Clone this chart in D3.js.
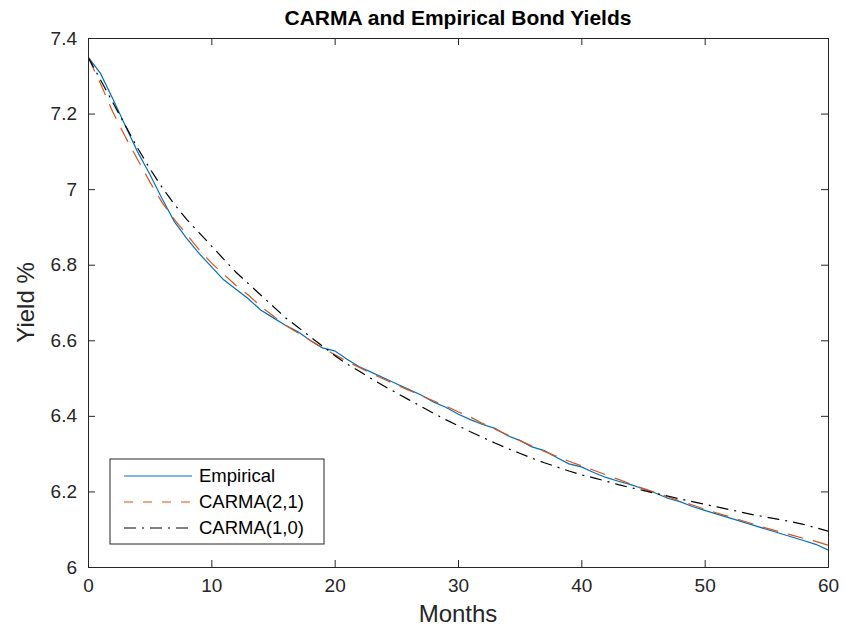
<!DOCTYPE html>
<html>
<head>
<meta charset="utf-8">
<script src="https://cdn.jsdelivr.net/npm/d3@7"></script>
<style>
  body { margin: 0; background: #fff; }
  svg { display: block; font-family: "Liberation Sans", Arial, Helvetica, sans-serif; }
</style>
</head>
<body>
<div id="chart"></div>
<script>
// monthly yields, months 0..60
var months = d3.range(0, 61);

var empirical = [7.350, 7.307, 7.240, 7.170, 7.100, 7.040, 6.975, 6.914, 6.870, 6.830,
                 6.795, 6.760, 6.735, 6.710, 6.680, 6.660, 6.640, 6.623, 6.600, 6.580,
                 6.572, 6.550, 6.530, 6.515, 6.500, 6.485, 6.470, 6.455, 6.437, 6.423,
                 6.405, 6.390, 6.377, 6.367, 6.348, 6.335, 6.318, 6.308, 6.290, 6.273,
                 6.265, 6.250, 6.237, 6.227, 6.218, 6.207, 6.196, 6.182, 6.173, 6.160,
                 6.150, 6.140, 6.130, 6.120, 6.110, 6.100, 6.090, 6.080, 6.070, 6.060,
                 6.045];

var carma21 = [7.350, 7.280, 7.205, 7.140, 7.080, 7.020, 6.965, 6.920, 6.880, 6.840,
               6.805, 6.775, 6.745, 6.720, 6.690, 6.665, 6.640, 6.620, 6.600, 6.580,
               6.562, 6.544, 6.528, 6.512, 6.497, 6.482, 6.468, 6.454, 6.440, 6.426,
               6.411, 6.397, 6.380, 6.365, 6.350, 6.335, 6.320, 6.306, 6.293, 6.280,
               6.268, 6.256, 6.244, 6.232, 6.220, 6.208, 6.197, 6.186, 6.175, 6.164,
               6.153, 6.143, 6.133, 6.123, 6.113, 6.103, 6.094, 6.085, 6.076, 6.068,
               6.058];

var carma10 = [7.350, 7.290, 7.230, 7.170, 7.110, 7.055, 7.005, 6.960, 6.920, 6.885,
               6.850, 6.815, 6.780, 6.750, 6.720, 6.690, 6.660, 6.635, 6.610, 6.585,
               6.560, 6.537, 6.518, 6.498, 6.479, 6.461, 6.443, 6.425, 6.407, 6.390,
               6.374, 6.358, 6.343, 6.328, 6.314, 6.301, 6.288, 6.276, 6.265, 6.254,
               6.244, 6.236, 6.227, 6.218, 6.210, 6.203, 6.195, 6.188, 6.180, 6.173,
               6.166, 6.159, 6.152, 6.145, 6.138, 6.132, 6.126, 6.120, 6.113, 6.104,
               6.095];

var xTicks = [0, 10, 20, 30, 40, 50, 60];
var yTicks = [6, 6.2, 6.4, 6.6, 6.8, 7, 7.2, 7.4];
var seriesNames = ["Empirical", "CARMA(2,1)", "CARMA(1,0)"];

var W = 844, H = 630;
var margin = {top: 38, right: 16, bottom: 63, left: 88};
var width = W - margin.left - margin.right,
    height = H - margin.top - margin.bottom;
var axisColor = "#262626";

var svg = d3.select("#chart").append("svg")
    .attr("width", W)
    .attr("height", H);

var g = svg.append("g")
    .attr("transform", "translate(" + margin.left + "," + margin.top + ")");

var x = d3.scaleLinear().domain([0, 60]).range([0, width]);
var y = d3.scaleLinear().domain([6, 7.4]).range([height, 0]);

g.append("clipPath").attr("id", "clip")
  .append("rect").attr("width", width).attr("height", height);

// series
var series = [
    {name: seriesNames[0], values: empirical, color: "#0072BD", dash: null, legendDash: null},
    {name: seriesNames[1], values: carma21, color: "#D95319", dash: "16,10", legendDash: "9,10"},
    {name: seriesNames[2], values: carma10, color: "#000000", dash: "12,6,2,6", legendDash: "12,6,2,6"}
];

var line = d3.line()
    .x(function (d, i) { return x(months[i]); })
    .y(function (d) { return y(d); });

var plot = g.append("g").attr("clip-path", "url(#clip)");

series.forEach(function (s) {
    plot.append("path")
        .datum(s.values)
        .attr("fill", "none")
        .attr("stroke", s.color)
        .attr("stroke-width", 1.2)
        .attr("stroke-dasharray", s.dash)
        .attr("d", line);
});

// axes (MATLAB style: inward ticks, box)
var tickLen = 7;

var xAxisB = d3.axisBottom(x).tickValues(xTicks).tickSize(-tickLen).tickPadding(12)
    .tickFormat(d3.format("d"));
var xAxisT = d3.axisTop(x).tickValues(xTicks).tickSize(-tickLen).tickFormat("");
var yAxisL = d3.axisLeft(y).tickValues(yTicks).tickSize(-tickLen).tickPadding(11)
    .tickFormat(function (d) { return d3.format("")(+d.toFixed(1)); });
var yAxisR = d3.axisRight(y).tickValues(yTicks).tickSize(-tickLen).tickFormat("");

function styleAxis(sel) {
    sel.select(".domain").attr("stroke", axisColor).attr("stroke-width", 1);
    sel.selectAll(".tick line").attr("stroke", axisColor).attr("stroke-width", 1);
    sel.selectAll(".tick text").attr("fill", axisColor)
        .style("font-size", "19px")
        .style("font-family", "'Liberation Sans', Arial, sans-serif");
}

g.append("g").attr("transform", "translate(0," + height + ")").call(xAxisB).call(styleAxis);
g.append("g").call(xAxisT).call(styleAxis);
g.append("g").call(yAxisL).call(styleAxis);
g.append("g").attr("transform", "translate(" + width + ",0)").call(yAxisR).call(styleAxis);

// labels
svg.append("text")
    .attr("x", margin.left + width / 2)
    .attr("y", 25)
    .attr("text-anchor", "middle")
    .attr("font-weight", "bold")
    .attr("font-size", "21px")
    .attr("fill", "#000")
    .text("CARMA and Empirical Bond Yields");

svg.append("text")
    .attr("x", margin.left + width / 2)
    .attr("y", 622)
    .attr("text-anchor", "middle")
    .attr("font-size", "24px")
    .attr("fill", axisColor)
    .text("Months");

svg.append("text")
    .attr("transform", "translate(34," + (margin.top + height / 2) + ") rotate(-90)")
    .attr("text-anchor", "middle")
    .attr("font-size", "24px")
    .attr("fill", axisColor)
    .text("Yield %");

// legend
var legend = svg.append("g").attr("transform", "translate(110,459)");

legend.append("rect")
    .attr("width", 214)
    .attr("height", 85)
    .attr("fill", "#fff")
    .attr("stroke", axisColor)
    .attr("stroke-width", 1);

series.forEach(function (s, i) {
    var ly = 17 + i * 26;
    legend.append("line")
        .attr("x1", 14).attr("x2", 82)
        .attr("y1", ly).attr("y2", ly)
        .attr("stroke", s.color)
        .attr("stroke-width", 1.2)
        .attr("stroke-dasharray", s.legendDash);
    legend.append("text")
        .attr("x", 89)
        .attr("y", ly)
        .attr("dy", "0.35em")
        .attr("font-size", "18.5px")
        .attr("fill", "#000")
        .text(s.name);
});
</script>
</body>
</html>
